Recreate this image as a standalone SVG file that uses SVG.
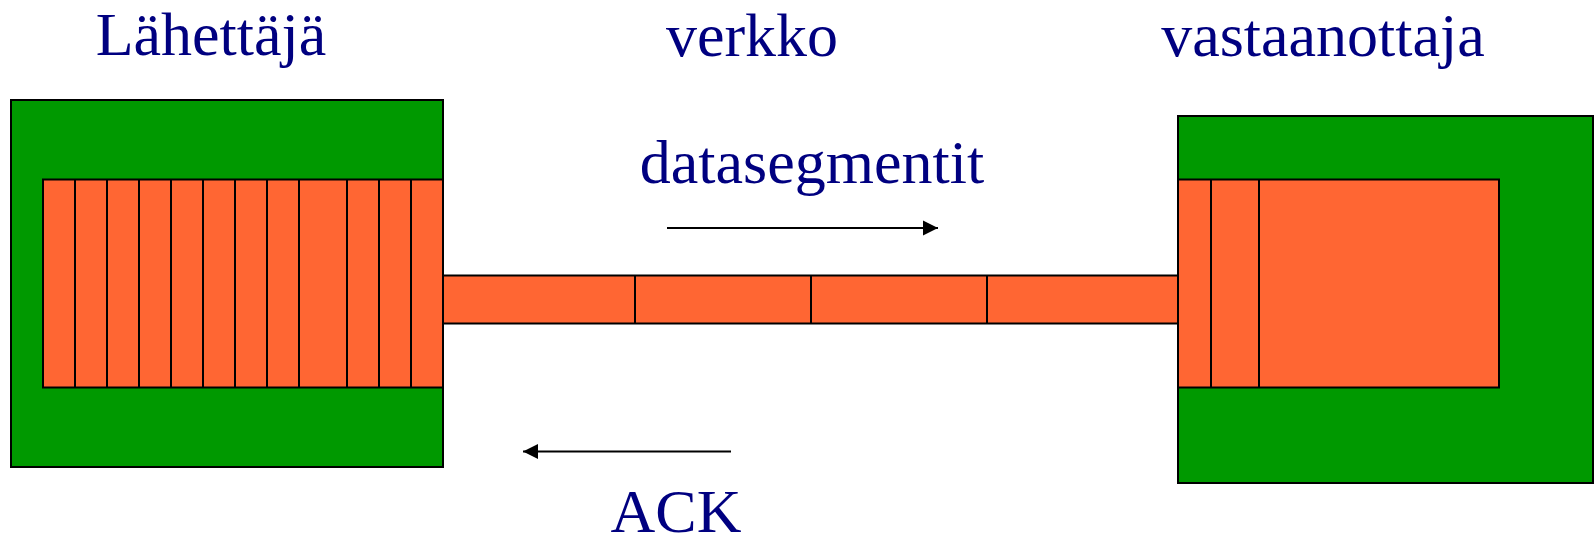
<svg xmlns="http://www.w3.org/2000/svg" width="1595" height="539" viewBox="0 0 1595 539">
<defs>
<style>
.g{fill:#009900;stroke:#000;stroke-width:2}
.o{fill:#FF6633;stroke:#000;stroke-width:2}
.d{stroke:#000;stroke-width:2;fill:none}
.t{font-family:"Liberation Serif","Times New Roman",serif;font-size:62px;fill:#000080;text-anchor:middle}
.a{stroke:#000;stroke-width:2;fill:none;marker-end:url(#ah)}
</style>
<marker id="ah" markerWidth="16" markerHeight="16" refX="15" refY="8" orient="auto" markerUnits="userSpaceOnUse" viewBox="0 0 16 16">
<path d="M0,0.5 L15,8 L0,15.5 Z" fill="#000"/>
</marker>
</defs>
<g id="sender">
<rect class="g" x="11" y="100" width="432" height="367"/>
<rect class="o" x="43" y="179.5" width="400" height="208"/>
<path class="d" d="M75,179.5V387.5M107,179.5V387.5M139,179.5V387.5M171,179.5V387.5M203,179.5V387.5M235,179.5V387.5M267,179.5V387.5M299,179.5V387.5M347,179.5V387.5M379,179.5V387.5M411,179.5V387.5"/>
</g>
<g id="receiver">
<rect class="g" x="1178" y="116" width="415" height="367"/>
<rect class="o" x="1178" y="179.5" width="321" height="208"/>
<path class="d" d="M1211,179.5V387.5M1259,179.5V387.5"/>
</g>
<g id="network">
<rect class="o" x="443" y="275.5" width="735" height="48"/>
<path class="d" d="M635,275.5V323.5M811,275.5V323.5M987,275.5V323.5"/>
</g>
<g id="connectors">
<line class="a" x1="667" y1="228" x2="938" y2="228"/>
<line class="a" x1="731" y1="451.5" x2="523" y2="451.5"/>
</g>
<g id="labels">
<text class="t" x="211" y="55">Lähettäjä</text>
<text class="t" x="752" y="56">verkko</text>
<text class="t" x="1323" y="56">vastaanottaja</text>
<text class="t" x="812" y="183">datasegmentit</text>
<text class="t" x="676" y="532">ACK</text>
</g>
</svg>
